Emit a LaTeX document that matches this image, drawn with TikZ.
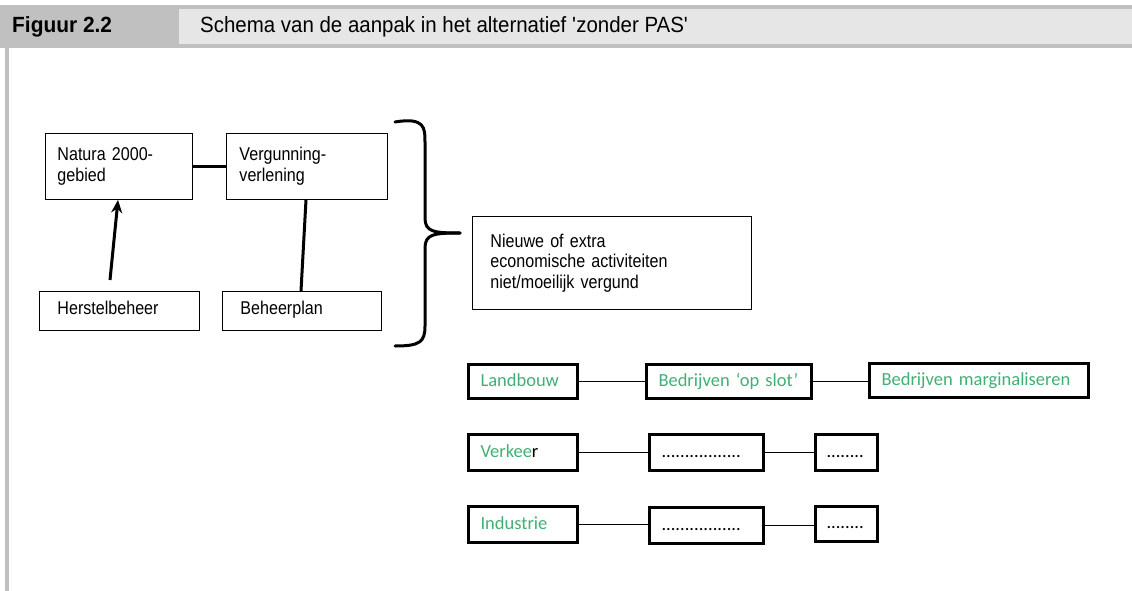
\documentclass[tikz,border=0pt]{standalone}
\usepackage{fontspec}
\setmainfont{Liberation Sans}
\newfontfamily\hdrfont{Liberation Sans}[FakeStretch=0.93]
\newfontfamily\hdrboldfont{Liberation Sans Bold}[FakeStretch=0.95]
\newfontfamily\boxfont{Liberation Sans}[FakeStretch=0.87]
\newfontfamily\calfont{Carlito}
\usetikzlibrary{arrows.meta,calc}
\definecolor{hdrgray}{RGB}{192,192,192}
\definecolor{hdrlight}{RGB}{230,230,230}
\definecolor{rowgreen}{RGB}{64,176,116}
\tikzset{
  plainbox/.style={draw=black, line width=0.9pt, anchor=north west, align=left,
    inner xsep=12pt, inner ysep=0pt, font=\boxfont\fontsize{18.5}{20.5}\selectfont},
  rowbox/.style={draw=black, line width=3pt, anchor=north west, align=left,
    inner xsep=12pt, inner ysep=0pt, text height=13pt, text depth=4pt,
    text=rowgreen, font=\calfont\fontsize{18.5}{22}\selectfont},
  thickconn/.style={line width=3pt, black},
  thinconn/.style={line width=1pt, black}
}
\begin{document}
\begin{tikzpicture}[x=1pt,y=-1pt]
\useasboundingbox (0,0) rectangle (1132,591);
% header
\fill[hdrgray] (0,5) rectangle (1132,48);
\fill[hdrlight] (179,9) rectangle (1132,44);
\fill[hdrgray] (5,48) rectangle (9,591);
\node[anchor=base west, inner sep=0pt, font=\hdrboldfont\fontsize{22}{24}\selectfont] (fig) at (12,32.5) {Figuur 2.2};
\node[anchor=base west, inner sep=0pt, font=\hdrfont\fontsize{22}{24}\selectfont] (title) at (200,32.5) {Schema van de aanpak in het alternatief \textquotesingle zonder PAS\textquotesingle};
% top diagram
\node[plainbox, minimum width=147pt, minimum height=66pt, text width=123pt] (nat) at (45,133) {Natura 2000-\\gebied};
\node[plainbox, minimum width=161pt, minimum height=66pt, text width=135pt, inner xsep=13pt] (ver) at (226,133) {Vergunning-\\verlening};
\node[plainbox, minimum width=160pt, minimum height=39pt, text width=124pt, inner xsep=18pt, text height=13pt, text depth=5pt] (hb) at (39,291) {Herstelbeheer};
\node[plainbox, minimum width=159pt, minimum height=39pt, text width=123pt, inner xsep=18pt, text height=14pt, text depth=6pt] (bp) at (222,291) {Beheerplan};
\draw[thickconn] (nat.east) -- (ver.west);
\draw[thickconn, -{Stealth[length=13pt,width=11pt]}] ($(hb.north west)+(71,-11)$) -- ($(nat.south west)+(73,0)$);
\draw[thickconn] ($(bp.north west)+(79,0)$) -- ($(ver.south west)+(80,0)$);
% brace
\draw[line width=3pt, line cap=round] (395,122) .. controls (425,117) and (425,128) .. (425,142)
  -- (425,218) .. controls (425,232) and (434,233) .. (460,233);
\draw[line width=3pt, line cap=round] (460,233) .. controls (434,233) and (425,234) .. (425,248)
  -- (425,326) .. controls (425,342) and (420,346) .. (395,346);
\node[plainbox, minimum width=279pt, minimum height=93pt, text width=243pt, inner xsep=18pt] (nw) at (472,216) {Nieuwe of extra\\economische activiteiten\\niet/moeilijk vergund};
% rows
\node[rowbox, minimum width=109pt, minimum height=34pt, text width=85pt] (land) at (467,363) {Landbouw};
\node[rowbox, minimum width=165pt, minimum height=34pt, text width=141pt] (slot) at (645,363) {Bedrijven ‘op slot’};
\node[rowbox, minimum width=219pt, minimum height=34pt, text width=195pt] (marg) at (868,362) {Bedrijven marginaliseren};
\draw[thinconn] (land.east) -- (land.east -| slot.west);
\draw[thinconn] (slot.east) -- (slot.east -| marg.west);
\node[rowbox, minimum width=109pt, minimum height=36pt, text width=85pt] (verk) at (467,433) {Verkee\textcolor{black}{r}};
\node[rowbox, minimum width=114pt, minimum height=36pt, text width=90pt, text=black] (d1) at (648,433) {.................};
\node[rowbox, minimum width=62pt, minimum height=36pt, text width=40pt, inner xsep=11pt, text=black] (d2) at (814,433) {........};
\draw[thinconn] (verk.east) -- (verk.east -| d1.west);
\draw[thinconn] (d1.east) -- (d1.east -| d2.west);
\node[rowbox, minimum width=109pt, minimum height=36pt, text width=85pt] (ind) at (467,505) {Industrie};
\node[rowbox, minimum width=114pt, minimum height=36pt, text width=90pt, text=black] (d3) at (648,506) {.................};
\node[rowbox, minimum width=62pt, minimum height=35pt, text width=40pt, inner xsep=11pt, text=black] (d4) at (814,505) {........};
\draw[thinconn] (ind.east) -- (ind.east -| d3.west);
\draw[thinconn] (d3.east) -- (d3.east -| d4.west);
\end{tikzpicture}
\end{document}
